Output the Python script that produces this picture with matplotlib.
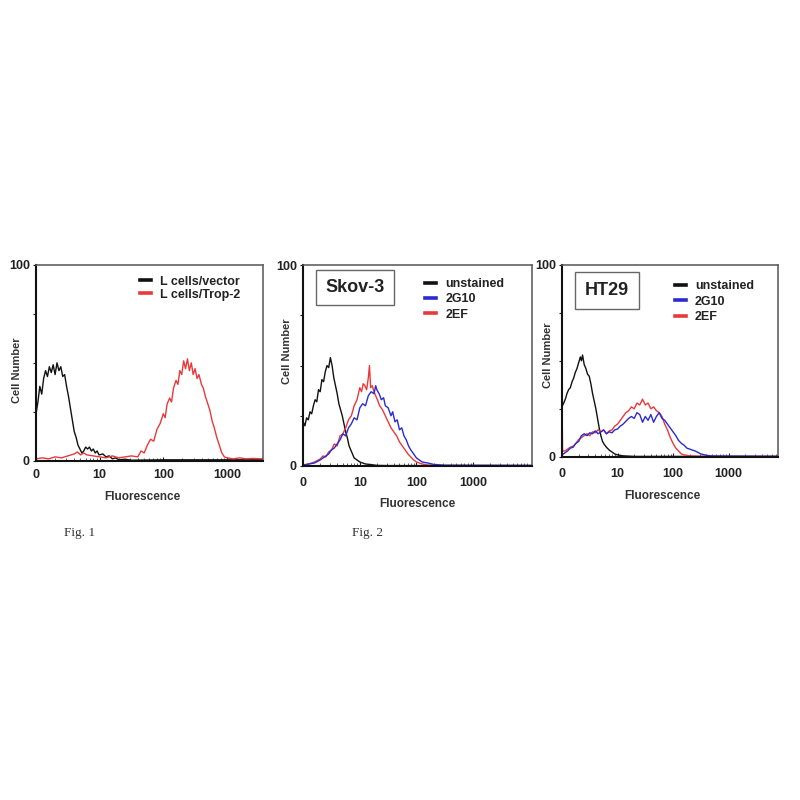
import numpy as np
import matplotlib
matplotlib.use("Agg")
import matplotlib.pyplot as plt
from matplotlib.ticker import FixedLocator, LogLocator, NullFormatter, FixedFormatter

plt.rcParams['font.family'] = ['Liberation Sans', 'DejaVu Sans']

# ---------------- data (x in decades of fluorescence, y = cell number) ----------------
# Fig. 1
p1_vec_dec = [0.00, 0.03, 0.06, 0.09, 0.12, 0.15, 0.18, 0.21, 0.24, 0.27, 0.30, 0.33, 0.36, 0.39,
              0.42, 0.45, 0.48, 0.51, 0.54, 0.57, 0.60, 0.63, 0.66, 0.69, 0.72, 0.75, 0.78, 0.81,
              0.84, 0.87, 0.90, 0.93, 0.96, 0.99, 1.05, 1.10, 1.15, 1.20, 1.25, 1.30, 1.40, 1.50,
              2.00, 2.50, 3.00, 3.57]
p1_vec_val = [24, 30, 38, 34, 42, 46, 43, 48, 45, 49, 44, 50, 46, 48,
              43, 44, 38, 33, 27, 21, 15, 12, 8, 6, 4, 5, 7, 6,
              7, 5, 6, 4, 5, 3, 3.5, 2, 2.5, 1, 1.5, 0.5, 0.8, 0.3,
              0.5, 0.5, 0.5, 0.5]
p1_trop_dec = [0.0, 0.1, 0.2, 0.3, 0.4, 0.5, 0.6, 0.65, 0.7, 0.75, 0.8, 0.9, 1.0, 1.1, 1.2, 1.3,
               1.4, 1.5, 1.6, 1.65, 1.7, 1.75, 1.8, 1.85, 1.9, 1.95, 2.0, 2.03, 2.06, 2.1, 2.13,
               2.16, 2.2, 2.23, 2.26, 2.29, 2.32, 2.35, 2.38, 2.41, 2.44, 2.47, 2.5, 2.53, 2.56,
               2.6, 2.63, 2.66, 2.7, 2.73, 2.77, 2.8, 2.84, 2.88, 2.92, 2.96, 3.0, 3.1, 3.2, 3.3,
               3.4, 3.57]
p1_trop_val = [1, 1.5, 1, 2, 1.5, 2.5, 3.5, 4.5, 3, 4, 3, 2.5, 2, 1.5, 2.5, 1.5,
               2, 2.5, 2, 5, 4, 8, 11, 10, 16, 19, 24, 22, 29, 32, 30,
               37, 41, 39, 46, 44, 51, 47, 52, 46, 50, 44, 47, 42, 44,
               39, 37, 33, 29, 26, 20, 17, 12, 8, 4, 2, 1.5, 1, 1.5, 1,
               1.2, 1]

# Fig. 2 Skov-3
p2_uns_dec = [0.00, 0.03, 0.06, 0.09, 0.12, 0.15, 0.18, 0.21, 0.24, 0.27, 0.30, 0.33, 0.36, 0.39,
              0.42, 0.45, 0.48, 0.51, 0.54, 0.57, 0.60, 0.63, 0.66, 0.69, 0.72, 0.75, 0.78, 0.81,
              0.84, 0.87, 0.90, 0.95, 1.0, 1.1, 1.2, 1.3, 1.5, 4.04]
p2_uns_val = [22, 20, 24, 23, 27, 26, 30, 33, 32, 38, 37, 43, 42, 47,
              50, 49, 54, 50, 44, 40, 36, 31, 28, 25, 21, 17, 14, 10,
              8, 6, 4, 3, 2, 1, 0.7, 0.3, 0.2, 0.2]
p2_2ef_dec = [0.0, 0.1, 0.2, 0.3, 0.35, 0.4, 0.45, 0.5, 0.55, 0.6, 0.65, 0.7, 0.75, 0.8, 0.85,
              0.9, 0.95, 1.0, 1.03, 1.06, 1.09, 1.12, 1.15, 1.17, 1.19, 1.22, 1.25, 1.28, 1.31,
              1.35, 1.4, 1.45, 1.5, 1.55, 1.6, 1.65, 1.7, 1.75, 1.8, 1.85, 1.9, 1.95, 2.0, 2.1,
              2.2, 2.4, 4.04]
p2_2ef_val = [0.5, 1, 2, 3.5, 5, 4.5, 7, 8, 11, 10, 15, 16, 19, 23, 25,
              30, 33, 39, 37, 41, 40, 38, 44, 50, 39, 40, 37, 35, 33,
              30, 28, 25, 22, 19, 17, 15, 12, 10, 8, 6, 4.5, 3, 2, 1,
              0.5, 0.2, 0.2]
p2_2g10_dec = [0.0, 0.1, 0.2, 0.3, 0.4, 0.45, 0.5, 0.55, 0.6, 0.65, 0.7, 0.75, 0.8, 0.85, 0.9,
               0.95, 1.0, 1.05, 1.1, 1.15, 1.2, 1.25, 1.28, 1.3, 1.34, 1.38, 1.42, 1.45, 1.5,
               1.55, 1.58, 1.62, 1.66, 1.7, 1.74, 1.78, 1.82, 1.86, 1.9, 1.95, 2.0, 2.1, 2.2,
               2.3, 2.5, 4.04]
p2_2g10_val = [0.5, 1, 1.5, 3, 5, 6, 8, 9, 11, 13, 16, 15, 19, 21, 24,
               23, 29, 31, 30, 35, 37, 36, 40, 38, 36, 33, 34, 30, 29,
               25, 27, 22, 23, 18, 19, 15, 13, 10, 8, 6, 4, 2, 1.5,
               0.8, 0.4, 0.3]

# Fig. 2 HT29
p3_uns_dec = [0.0, 0.03, 0.06, 0.09, 0.12, 0.15, 0.18, 0.21, 0.24, 0.27, 0.30, 0.33, 0.35, 0.37,
              0.40, 0.43, 0.46, 0.49, 0.52, 0.55, 0.58, 0.61, 0.64, 0.67, 0.70, 0.73, 0.76, 0.80,
              0.85, 0.9, 0.95, 1.0, 1.1, 1.3, 3.89]
p3_uns_val = [26, 28, 30, 33, 35, 36, 39, 41, 44, 46, 49, 52, 50, 53,
              48, 46, 43, 42, 38, 33, 29, 25, 20, 15, 11, 8, 6.5, 5,
              3.5, 2.5, 1.5, 1, 0.5, 0.2, 0.2]
p3_2ef_dec = [0.0, 0.01, 0.05, 0.1, 0.15, 0.2, 0.25, 0.3, 0.35, 0.4, 0.45, 0.5, 0.55, 0.6, 0.65,
              0.7, 0.75, 0.8, 0.85, 0.9, 0.95, 1.0, 1.05, 1.1, 1.15, 1.2, 1.25, 1.3, 1.35, 1.4,
              1.45, 1.5, 1.55, 1.6, 1.65, 1.7, 1.75, 1.8, 1.85, 1.9, 1.95, 2.0, 2.05, 2.1, 2.15,
              2.2, 2.3, 2.5, 3.89]
p3_2ef_val = [30, 3, 3, 4, 5, 5.5, 7, 9, 10, 11, 12, 11, 13, 12.5, 14,
              13, 14, 12, 13.5, 14, 16, 17, 19, 21, 23, 24, 26, 25, 28, 27,
              30, 27, 28, 25, 26, 24, 23, 21, 17, 14, 10, 7, 4.5, 3, 1.5,
              1, 0.5, 0.2, 0.2]
p3_2g10_dec = [0.0, 0.05, 0.1, 0.15, 0.2, 0.25, 0.3, 0.35, 0.4, 0.45, 0.5, 0.55, 0.6, 0.65, 0.7,
               0.75, 0.8, 0.85, 0.9, 0.95, 1.0, 1.05, 1.1, 1.15, 1.2, 1.25, 1.3, 1.35, 1.4, 1.45,
               1.5, 1.55, 1.6, 1.65, 1.7, 1.75, 1.8, 1.85, 1.9, 1.95, 2.0, 2.05, 2.1, 2.15, 2.2,
               2.25, 2.3, 2.4, 2.5, 2.6, 2.7, 3.89]
p3_2g10_val = [1, 2, 3, 4.5, 5, 7, 8, 11, 12, 11, 12.5, 12, 13.5, 12, 13,
               14, 12, 13, 12.5, 14, 14.5, 16, 17, 18.5, 20, 21, 20, 23, 22, 18,
               21, 19, 22, 18, 21, 23, 20, 19, 17, 15, 13, 11, 8.5, 7, 6,
               4.5, 4, 3, 1.5, 0.8, 0.4, 0.2]

x_tick_vals = [1, 10, 100, 1000]
x_tick_labels = ["0", "10", "100", "1000"]
y_tick_vals = [0, 25, 50, 75, 100]
y_tick_labels = ["0", "", "", "", "100"]

BLACK = '#111111'
RED = '#e8393a'
BLUE = '#2a2ad0'

fig = plt.figure(figsize=(8, 8), dpi=100)

def setup(ax, xmax_dec, ylab_xy, xlab_x, xlab_pad, tick_pad):
    ax.set_xscale('log')
    ax.set_xlim(1, 10 ** xmax_dec)
    ax.set_ylim(0, 100)
    ax.xaxis.set_major_locator(FixedLocator(x_tick_vals))
    ax.xaxis.set_major_formatter(FixedFormatter(x_tick_labels))
    ax.xaxis.set_minor_locator(LogLocator(base=10, subs=np.arange(2, 10), numticks=20))
    ax.xaxis.set_minor_formatter(NullFormatter())
    ax.yaxis.set_major_locator(FixedLocator(y_tick_vals))
    ax.yaxis.set_major_formatter(FixedFormatter(y_tick_labels))
    ax.tick_params(axis='x', which='major', direction='in', length=3, width=0.8, pad=tick_pad,
                   labelsize=9, colors='#222222')
    ax.tick_params(axis='x', which='minor', direction='in', length=2, width=0.6, color='#444444')
    ax.tick_params(axis='y', which='major', direction='out', length=2.5, width=0.8, pad=2,
                   labelsize=9, colors='#222222')
    for lab in ax.get_xticklabels() + ax.get_yticklabels():
        lab.set_fontweight('bold')
    for s in ['left', 'bottom']:
        ax.spines[s].set_color('#111111')
        ax.spines[s].set_linewidth(1.5)
    for s in ['top', 'right']:
        ax.spines[s].set_color('#555555')
        ax.spines[s].set_linewidth(1.1)
    ax.set_ylabel('Cell Number', fontsize=8, fontweight='bold', color='#333333')
    ax.yaxis.set_label_coords(*ylab_xy)
    ax.set_xlabel('Fluorescence', fontsize=8.5, fontweight='bold', color='#333333',
                  labelpad=xlab_pad)
    ax.xaxis.label.set_x(xlab_x)

def dec2x(d):
    return 10 ** np.asarray(d, dtype=float)

def add_legend(ax, lines, labels, x0, y0, spacing):
    leg = ax.legend(lines, labels, loc='upper left', bbox_to_anchor=(x0, y0), frameon=False,
                    borderpad=0, borderaxespad=0, handlelength=0.9, handletextpad=0.7,
                    labelspacing=spacing, prop={'weight': 'bold', 'size': 9})
    for h in leg.legend_handles:
        h.set_linewidth(2.6)
    for t in leg.get_texts():
        t.set_color('#222222')
    return leg

# ---------------- Fig. 1 ----------------
ax1 = fig.add_axes([0.045, 0.424, 0.284, 0.245])
setup(ax1, 3.57, (-0.062, 0.46), 0.467, 7, 6)
l1, = ax1.plot(dec2x(p1_vec_dec), p1_vec_val, color=BLACK, lw=1.0)
l2, = ax1.plot(dec2x(p1_trop_dec), p1_trop_val, color=RED, lw=1.0)
add_legend(ax1, [l1, l2], ['L cells/vector', 'L cells/Trop-2'], 0.458, 0.945, 0.1)

# ---------------- Skov-3 ----------------
ax2 = fig.add_axes([0.379, 0.4175, 0.286, 0.251])
setup(ax2, 4.04, (-0.048, 0.57), 0.5, 6.5, 8)
m1, = ax2.plot(dec2x(p2_uns_dec), p2_uns_val, color=BLACK, lw=1.0)
m3, = ax2.plot(dec2x(p2_2ef_dec), p2_2ef_val, color=RED, lw=1.0)
m2, = ax2.plot(dec2x(p2_2g10_dec), p2_2g10_val, color=BLUE, lw=1.0)
add_legend(ax2, [m1, m2, m3], ['unstained', '2G10', '2EF'], 0.533, 0.935, 0.25)
ax2.text(0.227, 0.89, 'Skov-3', transform=ax2.transAxes, ha='center', va='center',
         fontsize=13, fontweight='bold', color='#222222',
         bbox=dict(boxstyle='square,pad=0.5', fc='white', ec='#666666', lw=1.0))

# ---------------- HT29 ----------------
ax3 = fig.add_axes([0.7025, 0.429, 0.27, 0.24])
setup(ax3, 3.89, (-0.042, 0.53), 0.463, 7.5, 8)
n1, = ax3.plot(dec2x(p3_uns_dec), p3_uns_val, color=BLACK, lw=1.0)
n3, = ax3.plot(dec2x(p3_2ef_dec), p3_2ef_val, color=RED, lw=1.0)
n2, = ax3.plot(dec2x(p3_2g10_dec), p3_2g10_val, color=BLUE, lw=1.0)
add_legend(ax3, [n1, n2, n3], ['unstained', '2G10', '2EF'], 0.523, 0.92, 0.28)
ax3.text(0.208, 0.865, 'HT29', transform=ax3.transAxes, ha='center', va='center',
         fontsize=13, fontweight='bold', color='#222222',
         bbox=dict(boxstyle='square,pad=0.55', fc='white', ec='#666666', lw=1.0))

# captions
fig.text(80 / 800, 1 - 533 / 800, 'Fig. 1', family=['Liberation Serif', 'DejaVu Serif'],
         fontsize=9.5, ha='center', va='center', color='#333333')
fig.text(367 / 800, 1 - 533 / 800, 'Fig. 2', family=['Liberation Serif', 'DejaVu Serif'],
         fontsize=9.5, ha='center', va='center', color='#333333')

fig.savefig('out.png', dpi=100, facecolor='white')
